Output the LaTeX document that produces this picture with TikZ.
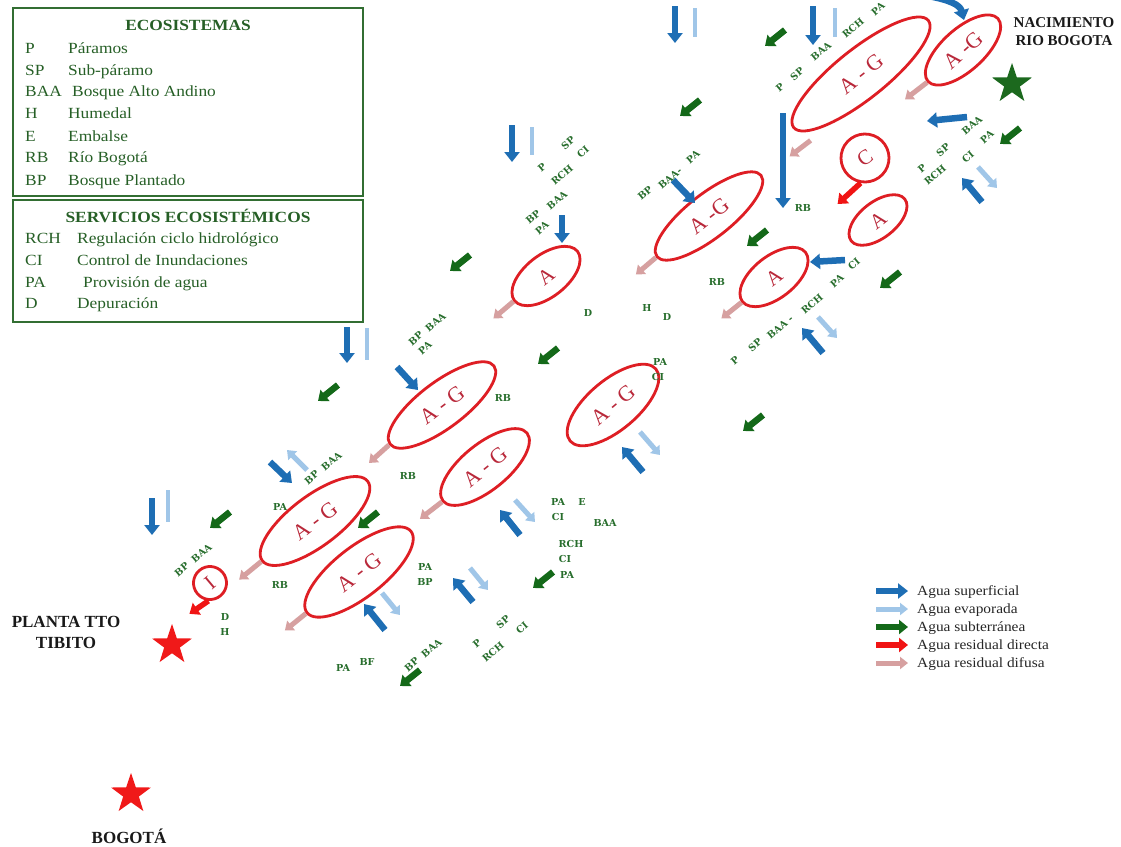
\documentclass[tikz,border=0pt]{standalone}
\usepackage{fontspec}
\setmainfont{Liberation Serif}
\newfontfamily\legfam[FakeStretch=1.12]{Liberation Serif}
\newfontfamily\keyfam[FakeStretch=1.1]{Liberation Serif}
\newfontfamily\labfam{DejaVu Serif}
\usetikzlibrary{arrows.meta,shapes.geometric}

\definecolor{legtext}{RGB}{38,95,38}
\definecolor{legframe}{RGB}{50,110,50}
\definecolor{labgreen}{RGB}{40,110,45}
\definecolor{ellred}{RGB}{222,30,36}
\definecolor{ellfont}{RGB}{185,40,58}
\definecolor{supblue}{RGB}{30,110,180}
\definecolor{evapblue}{RGB}{160,198,232}
\definecolor{subgreen}{RGB}{20,105,25}
\definecolor{dirred}{RGB}{240,20,20}
\definecolor{difpink}{RGB}{214,160,160}
\definecolor{stargreen}{RGB}{28,105,30}
\definecolor{starred}{RGB}{240,25,25}
\definecolor{placefont}{RGB}{25,25,25}

\begin{document}
\begin{tikzpicture}[x=1pt,y=-1pt,
  sup/.style={draw=supblue, line width=6.5pt, -{Triangle[width=15pt,length=10pt]}},
  evapbar/.style={draw=evapblue, line width=4pt},
  evap/.style={draw=evapblue, line width=5pt, -{Triangle[width=12pt,length=8pt]}},
  sub/.style={draw=subgreen, line width=6.5pt, -{Triangle[width=14pt,length=9pt]}},
  resd/.style={draw=dirred, line width=5.5pt, -{Triangle[width=14pt,length=9pt]}},
  resf/.style={draw=difpink, line width=5pt, -{Triangle[width=12pt,length=8pt]}},
  ell/.style={ellipse, draw=ellred, line width=2.8pt, inner sep=0pt, text=ellfont,
    font=\fontsize{22}{22}\selectfont},
  ellA/.style={ell, font=\fontsize{21}{21}\selectfont},
  circ/.style={circle, draw=ellred, line width=2.8pt, inner sep=0pt, text=ellfont,
    font=\fontsize{21}{21}\selectfont},
  gl/.style={text=labgreen, inner sep=0.5pt, font=\labfam\bfseries\fontsize{9.6}{9.6}\selectfont},
  legtitle/.style={text=legtext, inner sep=0pt, anchor=base,
    font=\legfam\bfseries\fontsize{15.5}{15.5}\selectfont},
  legitem/.style={text=legtext, inner sep=0pt, anchor=base west,
    font=\legfam\fontsize{15.5}{15.5}\selectfont},
  keyitem/.style={text=black!85, inner sep=0pt, anchor=base west,
    font=\keyfam\fontsize{14}{14}\selectfont},
  place/.style={text=placefont, inner sep=0pt, align=center,
    font=\bfseries\fontsize{15}{18}\selectfont},
  placebig/.style={place, font=\bfseries\fontsize{17}{21}\selectfont},
  mark5/.style={star, star points=5, star point ratio=2.55, inner sep=0pt, minimum size=42pt}
]
\useasboundingbox (0,0) rectangle (1121,846);
\fill[white] (0,0) rectangle (1121,846);

% ---------- legend boxes ----------
\draw[legframe, line width=1.3pt] (13,8) rectangle (363,196);
\draw[legframe, line width=1.3pt] (13,200) rectangle (363,322);
\node[legtitle] (ecoT) at (188,30) {ECOSISTEMAS};
\foreach \a/\t/\y/\x [count=\i] in {P/Páramos/53/68, SP/Sub-páramo/75/68,
    BAA/Bosque Alto Andino/96/72, H/Humedal/118/68, E/Embalse/141/68,
    RB/Río Bogotá/162/68, BP/Bosque Plantado/185/68}
  {\node[legitem] (ea\i) at (25,\y) {\a};
   \node[legitem] (et\i) at (\x,\y) {\t};}
\node[legtitle] (seT) at (188,222) {SERVICIOS ECOSISTÉMICOS};
\foreach \a/\t/\y/\x [count=\i] in {RCH/Regulación ciclo  hidrológico/243/77,
    CI/Control de Inundaciones/265/77, PA/Provisión de agua/287/83,
    D/Depuración/308/77}
  {\node[legitem] (sa\i) at (25,\y) {\a};
   \node[legitem] (st\i) at (\x,\y) {\t};}

% ---------- land units ----------
\node[ell, minimum width=172pt, minimum height=50pt, rotate=38.5] (e1) at (861,74) {A - G};
\node[ell, minimum width=94pt, minimum height=42pt, rotate=42] (e2) at (963,50) {A -G};
\node[circ, minimum size=48pt, rotate=35] (e3) at (865,158) {C};
\node[ell, minimum width=132pt, minimum height=44pt, rotate=38] (e4) at (709,216) {A -G};
\node[ellA, minimum width=80pt, minimum height=42pt, rotate=38] (e5) at (546,276) {A};
\node[ellA, minimum width=80pt, minimum height=42pt, rotate=38] (e6) at (774,277) {A};
\node[ellA, minimum width=68pt, minimum height=36pt, rotate=38] (e7) at (878,220) {A};
\node[ell, minimum width=130pt, minimum height=46pt, rotate=37] (e8) at (442,405) {A - G};
\node[ell, minimum width=112pt, minimum height=50pt, rotate=40] (e9) at (613,405) {A - G};
\node[ell, minimum width=108pt, minimum height=46pt, rotate=39] (e10) at (485,467) {A - G};
\node[ell, minimum width=132pt, minimum height=50pt, rotate=37] (e11) at (315,521) {A - G};
\node[ell, minimum width=132pt, minimum height=50pt, rotate=38] (e12) at (359,572) {A - G};
\node[circ, minimum size=33pt, rotate=40] (e13) at (210,583) {I};

% ---------- surface water ----------
\draw[sup] (675,6) -- (675,43);   \draw[evapbar] (695,8) -- (695,37);
\draw[sup] (813,6) -- (813,45);   \draw[evapbar] (835,8) -- (835,37);
\draw[sup] (928,-4) .. controls (950,0) and (960,5) .. (964,20);
\draw[sup] (783,113) -- (783,208);
\draw[sup] (967,117) -- (927,121);
\draw[sup] (673,180) -- (695,203);
\draw[sup] (982,202) -- (962,178); \draw[evap] (978,167) -- (997,188);
\draw[sup] (512,125) -- (512,162); \draw[evapbar] (532,127) -- (532,155);
\draw[sup] (562,215) -- (562,243);
\draw[sup] (845,260) -- (810,262);
\draw[sup] (823,353) -- (802,328); \draw[evap] (818,317) -- (837,338);
\draw[sup] (347,327) -- (347,363); \draw[evapbar] (367,328) -- (367,360);
\draw[sup] (397,367) -- (418,390);
\draw[sup] (643,472) -- (622,447); \draw[evap] (640,432) -- (660,455);
\draw[sup] (152,498) -- (152,535); \draw[evapbar] (168,490) -- (168,522);
\draw[sup] (270,462) -- (292,483); \draw[evap] (307,470) -- (287,450);
\draw[sup] (385,630) -- (364,604); \draw[evap] (382,593) -- (400,615);
\draw[sup] (473,602) -- (453,578); \draw[evap] (470,568) -- (488,590);
\draw[sup] (520,535) -- (500,510); \draw[evap] (515,500) -- (535,522);

% ---------- groundwater ----------
\foreach \x/\y in {785/30, 700/100, 1020/128, 767/230, 900/272, 470/255, 558/348,
    338/385, 763/415, 230/512, 378/512, 553/572, 420/670}
  \draw[sub] (\x,\y) -- ++(-20,16);

% ---------- diffuse and direct waste water ----------
\draw[resf] (e1.west) ++(18,12) -- ++(-21,16);
\draw[resf] (e2.west) -- ++(-22,17);
\draw[resf] (e5.west) -- ++(-20,17);
\draw[resf] (e4.west) -- ++(-20,17);
\draw[resf] (e6.west) -- ++(-20,16);
\draw[resf] (e8.west) -- ++(-20,18);
\draw[resf] (e10.west) -- ++(-22,17);
\draw[resf] (e11.west) -- ++(-22,18);
\draw[resf] (e12.west) -- ++(-21,17);
\draw[resd] (e3.225) -- ++(-23,21);
\draw[resd] (e13.225) -- ++(-19,13);

% ---------- labels ----------
\foreach \t/\x/\y [count=\i] in {D/588/313, H/647/308, D/667/317, RB/717/282, RB/803/208,
    RB/503/398, PA/660/362, CI/658/377, RB/408/476, PA/280/507, RB/280/585, D/225/617,
    H/225/632, PA/425/567, BP/425/582, PA/343/668, BF/367/662, PA/558/502, E/582/502,
    CI/558/517, BAA/605/523, RCH/571/544, CI/565/559, PA/567/575}
  \node[gl] (h\i) at (\x,\y) {\t};
\foreach \t/\x/\y [count=\i] in {P/780/87, SP/797/74, BAA/821/51, RCH/853/28, PA/878/9,
    P/922/168, SP/943/150, BAA/972/125, RCH/935/175, CI/968/157, PA/987/137,
    BP/645/193, BAA-/670/178, PA/693/157, P/542/167, SP/568/143, RCH/562/175, CI/583/152,
    BP/533/217, BAA/557/200, PA/542/228, P/735/360, SP/755/345, {BAA -}/780/327,
    RCH/812/304, PA/837/281, CI/854/264, {BP~ BAA}/427/329, PA/425/348,
    {BP~ BAA}/323/468, {BP~ BAA}/193/560, {BP~ BAA}/423/655,
    P/477/643, SP/503/622, RCH/493/652, CI/522/628}
  \node[gl, rotate=40] (d\i) at (\x,\y) {\t};

% ---------- places ----------
\node[mark5, fill=stargreen] (s1) at (1012,84) {};
\node[mark5, fill=starred] (s2) at (172,645) {};
\node[mark5, fill=starred] (s3) at (131,794) {};
\node[place] (p1) at (1064,32) {NACIMIENTO\\RIO BOGOTA};
\node[placebig] (p2) at (66,632) {PLANTA TTO\\TIBITO};
\node[placebig] (p3) at (129,836) {BOGOTÁ};

% ---------- key ----------
\foreach \s/\t/\y [count=\i] in {sup/Agua superficial/591, evap/Agua evaporada/609,
    sub/Agua subterránea/627, resd/Agua residual directa/645, resf/Agua residual difusa/663}
  {\coordinate (ka\i) at (876,\y);
   \draw[\s] (ka\i) -- ++(32,0);
   \node[keyitem] (kt\i) at (917,\y+4.5) {\t};}
\end{tikzpicture}
\end{document}
